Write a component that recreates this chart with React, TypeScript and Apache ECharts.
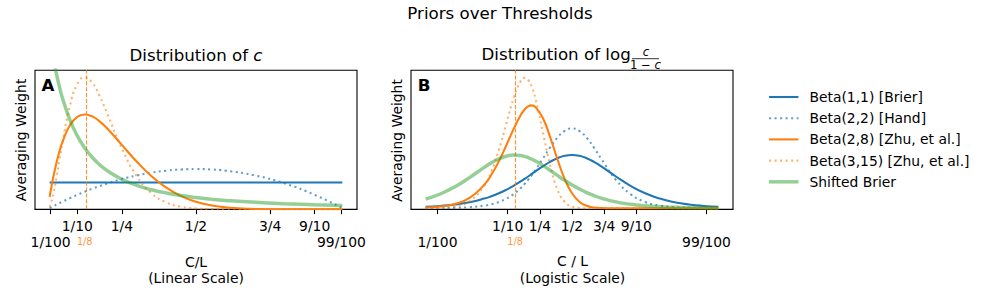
import React, { useEffect, useRef } from 'react';
import * as echarts from 'echarts';

const FONT = "'DejaVu Sans', sans-serif";

const seriesNames = [
  'Beta(1,1) [Brier]',
  'Beta(2,2) [Hand]',
  'Beta(2,8) [Zhu, et al.]',
  'Beta(3,15) [Zhu, et al.]',
  'Shifted Brier',
];

// Panel A: threshold c on a linear scale
const linearX = [0.0067, 0.01, 0.02, 0.03, 0.04, 0.05, 0.075, 0.1, 0.125, 0.15, 0.175, 0.2, 0.25, 0.3, 0.35, 0.4, 0.45, 0.5, 0.55, 0.6, 0.7, 0.8, 0.9, 0.9933];
const linearBeta11 = [1, 1, 1, 1, 1, 1, 1, 1, 1, 1, 1, 1, 1, 1, 1, 1, 1, 1, 1, 1, 1, 1, 1, 1];
const linearBeta22 = [0.040, 0.059, 0.118, 0.175, 0.230, 0.285, 0.416, 0.540, 0.656, 0.765, 0.866, 0.960, 1.125, 1.260, 1.365, 1.440, 1.485, 1.500, 1.485, 1.440, 1.260, 0.960, 0.540, 0.040];
const linearBeta28 = [0.460, 0.671, 1.250, 1.745, 2.164, 2.514, 3.129, 3.444, 3.534, 3.462, 3.278, 3.020, 2.403, 1.779, 1.235, 0.806, 0.493, 0.281, 0.148, 0.071, 0.011, 0.001, 0, 0];
const linearBeta315 = [0.083, 0.177, 0.615, 1.199, 1.843, 2.487, 3.852, 4.667, 4.916, 4.717, 4.228, 3.589, 2.272, 1.245, 0.601, 0.256, 0.096, 0.031, 0.009, 0.002, 0, 0, 0, 0];
const linearShifted = [6.47, 6.23, 5.58, 5.027, 4.553, 4.142, 3.329, 2.734, 2.286, 1.939, 1.666, 1.446, 1.120, 0.893, 0.728, 0.606, 0.511, 0.438, 0.379, 0.331, 0.259, 0.208, 0.171, 0.145];

// Panel B: log-odds of c
const logitX = [-5, -4.5, -4, -3.5, -3, -2.75, -2.5, -2.25, -2, -1.75, -1.625, -1.5, -1.375, -1.25, -1, -0.75, -0.5, -0.25, 0, 0.25, 0.5, 0.75, 1, 1.5, 2, 2.5, 3, 3.5, 4, 4.5, 5];
const logitBeta11 = [0.0066, 0.0109, 0.0177, 0.0285, 0.0452, 0.0565, 0.0701, 0.0863, 0.1050, 0.1261, 0.1375, 0.1491, 0.1611, 0.1731, 0.1966, 0.2179, 0.2350, 0.2461, 0.25, 0.2461, 0.2350, 0.2179, 0.1966, 0.1491, 0.1050, 0.0701, 0.0452, 0.0285, 0.0177, 0.0109, 0.0066];
const logitBeta22 = [0.0003, 0.0007, 0.0019, 0.0049, 0.0122, 0.0191, 0.0295, 0.0446, 0.0661, 0.0955, 0.1134, 0.1335, 0.1557, 0.1798, 0.2319, 0.2849, 0.3314, 0.3635, 0.375, 0.3635, 0.3314, 0.2849, 0.2319, 0.1335, 0.0661, 0.0295, 0.0122, 0.0049, 0.0019, 0.0007, 0.0003];
const logitBeta28 = [0.0031, 0.0080, 0.0201, 0.0488, 0.1098, 0.1583, 0.2204, 0.2936, 0.3706, 0.4380, 0.4627, 0.4783, 0.4832, 0.4758, 0.4247, 0.3356, 0.2313, 0.1377, 0.0703, 0.0307, 0.0115, 0.0037, 0.0011, 0.0001, 0, 0, 0, 0, 0, 0, 0];
const logitBeta315 = [0.0006, 0.0023, 0.0090, 0.0329, 0.1050, 0.1747, 0.2727, 0.3934, 0.5148, 0.5986, 0.6129, 0.6037, 0.5701, 0.5147, 0.3611, 0.2034, 0.0896, 0.0303, 0.0078, 0.0015, 0.0002, 0, 0, 0, 0, 0, 0, 0, 0, 0, 0];
const logitShifted = [0.0431, 0.0669, 0.1007, 0.1440, 0.1917, 0.2136, 0.2318, 0.2443, 0.2498, 0.2476, 0.2437, 0.2380, 0.2307, 0.2220, 0.2015, 0.1783, 0.1543, 0.1310, 0.1094, 0.0901, 0.0734, 0.0592, 0.0475, 0.0299, 0.0186, 0.0115, 0.0070, 0.0043, 0.0026, 0.0016, 0.0010];

// Tick labels
const tickFractions = [0.01, 0.1, 0.25, 0.5, 0.75, 0.9, 0.99];
const tickLabels = ['1/100', '1/10', '1/4', '1/2', '3/4', '9/10', '99/100'];
const tickLowerRow = [true, false, false, false, false, false, true];
const markFraction = 0.125;
const markLabel = '1/8';

const logit = (p: number) => Math.log(p / (1 - p));

const lineStyles = [
  { color: '#1f77b4', width: 2.08, type: 'solid' as any },
  { color: 'rgba(31,119,180,0.7)', width: 2.08, type: [2.08, 3.43] as any },
  { color: '#ff7f0e', width: 2.08, type: 'solid' as any },
  { color: 'rgba(255,127,14,0.6)', width: 2.08, type: [2.08, 3.43] as any },
  { color: 'rgba(44,160,44,0.5)', width: 3.47, type: 'solid' as any },
];

const ROW_GAP = 16;
const LABEL_MARGIN = 8.5;
const LABEL_LINE = 16;

function findLabel(positions: number[], v: number) {
  const i = positions.findIndex((p) => Math.abs(p - v) < 1e-6);
  return i >= 0 ? tickLabels[i] : '';
}

// Upper row: ticks at every fraction, labels for the upper-row fractions
function makeMainXAxis(gridIndex: number, min: number, max: number, ticks: number[]) {
  const upper = ticks.filter((_, i) => !tickLowerRow[i]);
  return {
    type: 'value',
    gridIndex,
    position: 'bottom',
    offset: 0,
    min,
    max,
    axisLine: { show: true, onZero: false, lineStyle: { color: '#000', width: 1.1 } },
    axisTick: { show: true, customValues: ticks, length: 4.86, lineStyle: { color: '#000', width: 1.1 } },
    axisLabel: {
      show: true,
      customValues: upper,
      formatter: (v: number) => findLabel(ticks, v),
      showMinLabel: true,
      showMaxLabel: true,
      color: '#000',
      fontSize: 13.89,
      lineHeight: LABEL_LINE,
      fontFamily: FONT,
      margin: LABEL_MARGIN,
    },
    splitLine: { show: false },
  };
}

// Lower row: the outer fractions and the 1/8 marker label
function makeLowerXAxis(gridIndex: number, min: number, max: number, ticks: number[], markPos: number) {
  const lower = ticks.filter((_, i) => tickLowerRow[i]);
  return {
    type: 'value',
    gridIndex,
    position: 'bottom',
    offset: 0,
    min,
    max,
    axisLine: { show: false, onZero: false },
    axisTick: { show: false },
    axisLabel: {
      show: true,
      customValues: [lower[0], markPos, lower[1]],
      formatter: (v: number) => (Math.abs(v - markPos) < 1e-6 ? '{o|' + markLabel + '}' : findLabel(ticks, v)),
      showMinLabel: true,
      showMaxLabel: true,
      color: '#000',
      fontSize: 13.89,
      lineHeight: LABEL_LINE,
      fontFamily: FONT,
      margin: LABEL_MARGIN + ROW_GAP,
      rich: {
        o: { color: 'rgba(255,127,14,0.85)', fontSize: 9.7, lineHeight: LABEL_LINE, fontFamily: FONT },
      },
    },
    splitLine: { show: false },
  };
}

function makeYAxis(gridIndex: number, min: number, max: number) {
  return {
    type: 'value',
    gridIndex,
    min,
    max,
    axisLine: { show: false },
    axisTick: { show: false },
    axisLabel: { show: false },
    splitLine: { show: false },
  };
}

function makeSeries(idx: number, xs: number[], ys: number[], xAxisIndex: number, yAxisIndex: number, markPos: number | null) {
  const ls = lineStyles[idx];
  const s: any = {
    type: 'line',
    name: seriesNames[idx],
    xAxisIndex,
    yAxisIndex,
    data: xs.map((x, i) => [x, ys[i]]),
    symbol: 'none',
    smooth: 0.5,
    clip: true,
    z: 2 + idx,
    lineStyle: { color: ls.color, width: ls.width, type: ls.type, cap: 'butt' },
    itemStyle: { color: ls.color, opacity: 0 },
    emphasis: { disabled: true },
  };
  if (markPos !== null) {
    s.markLine = {
      silent: true,
      symbol: ['none', 'none'],
      label: { show: false },
      emphasis: { disabled: true },
      lineStyle: { color: 'rgba(255,127,14,0.85)', width: 1.1, type: [4.1, 1.8] },
      data: [{ xAxis: markPos }],
    };
  }
  return s;
}

const txt = (text: string, x: number, y: number, extra: any = {}) => ({
  type: 'text',
  x,
  y,
  silent: true,
  ...(extra.rotation !== undefined ? { rotation: extra.rotation } : {}),
  style: {
    text,
    fill: '#000',
    fontSize: 13.89,
    fontFamily: FONT,
    align: 'center',
    verticalAlign: 'middle',
    textAlign: 'center',
    textVerticalAlign: 'middle',
    ...(extra.style || {}),
  },
});

export default function App() {
  const ref = useRef<HTMLDivElement>(null);

  useEffect(() => {
    if (!ref.current) return;
    const chart = echarts.init(ref.current, undefined, { renderer: 'svg' });

    const linExt = [Math.min(...linearX), Math.max(...linearX)];
    const linPad = 0.05 * (linExt[1] - linExt[0]);
    const logExt = [Math.min(...logitX), Math.max(...logitX)];
    const logPad = 0.05 * (logExt[1] - logExt[0]);
    const logitTicks = tickFractions.map(logit);
    const logitMark = logit(markFraction);

    const linearSets = [linearBeta11, linearBeta22, linearBeta28, linearBeta315, linearShifted];
    const logitSets = [logitBeta11, logitBeta22, logitBeta28, logitBeta315, logitShifted];

    const series: any[] = [];
    linearSets.forEach((ys, i) => series.push(makeSeries(i, linearX, ys, 0, 0, i === 2 ? markFraction : null)));
    logitSets.forEach((ys, i) => series.push(makeSeries(i, logitX, ys, 2, 1, i === 2 ? logitMark : null)));

    const aMin = linExt[0] - linPad;
    const aMax = linExt[1] + linPad;
    const bMin = logExt[0] - logPad;
    const bMax = logExt[1] + logPad;

    const option: any = {
      animation: false,
      textStyle: { fontFamily: FONT },
      grid: [
        { left: 35, top: 70.3, width: 322, height: 139, show: true, borderColor: '#000', borderWidth: 1.1, backgroundColor: 'transparent', containLabel: false },
        { left: 411, top: 70.3, width: 322, height: 139, show: true, borderColor: '#000', borderWidth: 1.1, backgroundColor: 'transparent', containLabel: false },
      ],
      xAxis: [
        makeMainXAxis(0, aMin, aMax, tickFractions),
        makeLowerXAxis(0, aMin, aMax, tickFractions, markFraction),
        makeMainXAxis(1, bMin, bMax, logitTicks),
        makeLowerXAxis(1, bMin, bMax, logitTicks, logitMark),
      ],
      yAxis: [makeYAxis(0, 0, 5.18), makeYAxis(1, -0.005, 0.648)],
      legend: {
        orient: 'vertical',
        left: 767.3,
        top: 90,
        padding: 0,
        itemWidth: 29.4,
        itemHeight: 14,
        itemGap: 7.2,
        data: seriesNames,
        selectedMode: false,
        lineStyle: { width: 'inherit' },
        textStyle: { fontSize: 13.89, fontFamily: FONT, color: '#000', padding: [0, 0, 0, 6] },
      },
      series,
      graphic: [
        txt('Priors over Thresholds', 500, 13.2, { style: { fontSize: 16.67 } }),
        {
          type: 'text',
          x: 196,
          y: 55,
          silent: true,
          style: {
            text: '{n|Distribution of }{i|c}',
            align: 'center',
            verticalAlign: 'middle',
            textAlign: 'center',
            textVerticalAlign: 'middle',
            fill: '#000',
            fontSize: 16.67,
            fontFamily: FONT,
            rich: {
              n: { fontSize: 16.67, fontFamily: FONT, fill: '#000' },
              i: { fontSize: 16.67, fontFamily: FONT, fontStyle: 'italic', fill: '#000' },
            },
          },
        },
        txt('Distribution of log', 481.5, 54.5, { style: { fontSize: 16.67, align: 'left', textAlign: 'left' } }),
        txt('c', 646, 51.6, { style: { fontSize: 11.7, fontStyle: 'italic', lineHeight: 12 } }),
        { type: 'line', silent: true, shape: { x1: 632, y1: 58.7, x2: 659, y2: 58.7 }, style: { stroke: '#000', lineWidth: 0.8 } },
        {
          type: 'text',
          x: 645.5,
          y: 64.8,
          silent: true,
          style: {
            text: '{r|1 − }{i|c}',
            align: 'center',
            verticalAlign: 'middle',
            textAlign: 'center',
            textVerticalAlign: 'middle',
            fill: '#000',
            fontSize: 11.7,
            fontFamily: FONT,
            lineHeight: 12,
            rich: {
              r: { fontSize: 11.7, fontFamily: FONT, fill: '#000', lineHeight: 12 },
              i: { fontSize: 11.7, fontFamily: FONT, fontStyle: 'italic', fill: '#000', lineHeight: 12 },
            },
          },
        },
        txt('A', 41.5, 85.5, { style: { fontSize: 16.67, fontWeight: 'bold', align: 'left', textAlign: 'left' } }),
        txt('B', 417.8, 85.2, { style: { fontSize: 16.67, fontWeight: 'bold', align: 'left', textAlign: 'left' } }),
        txt('Averaging Weight', 20.5, 140, { rotation: Math.PI / 2 }),
        txt('Averaging Weight', 396.7, 140.5, { rotation: Math.PI / 2 }),
        txt('C/L', 196, 261.5),
        txt('(Linear Scale)', 196, 278),
        txt('C / L', 572.5, 260.5),
        txt('(Logistic Scale)', 572.5, 277.5),
      ],
    };

    chart.setOption(option);
    return () => {
      chart.dispose();
    };
  }, []);

  return (
    <div
      ref={ref}
      style={{ position: 'fixed', left: 0, top: 0, width: 1000, height: 300, background: '#fff' }}
    />
  );
}
